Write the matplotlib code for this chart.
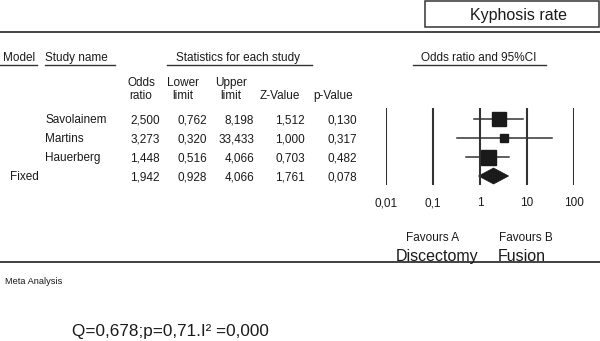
import matplotlib
matplotlib.use("Agg")
import matplotlib.pyplot as plt
from matplotlib.patches import Rectangle, Polygon

plt.rcParams['font.family'] = ['Liberation Sans', 'DejaVu Sans']

# ---- data ----
studies = ["Savolainem", "Martins", "Hauerberg"]
odds_ratio = [2.500, 3.273, 1.448]
lower_limit = [0.762, 0.320, 0.516]
upper_limit = [8.198, 33.433, 4.066]
z_value = [1.512, 1.000, 0.703]
p_value = [0.130, 0.317, 0.482]
pooled_label = "Fixed"
pooled = [1.942, 0.928, 4.066, 1.761, 0.078]  # OR, lower, upper, Z, p
axis_ticks = [0.01, 0.1, 1, 10, 100]
axis_tick_labels = ["0,01", "0,1", "1", "10", "100"]
heterogeneity = "Q=0,678;p=0,71.I\u00b2 =0,000"

# ---- style ----
square_sizes = [9.8, 5.4, 10.8]  # points
TXT = "#1a1a1a"
LN = "#333333"
fs = 8.5

W, H = 600, 341
fig = plt.figure(figsize=(W / 100, H / 100), dpi=100)
bg = fig.add_axes([0, 0, 1, 1])
bg.set_xlim(0, W)
bg.set_ylim(H, 0)
bg.axis("off")

def fmt(v):
    return f"{v:.3f}".replace(".", ",")

def txt(x, y, s, ha="left", size=fs):
    # y is the visual middle of capitals; convert to baseline
    px = size * 100 / 72
    bg.text(x, y + 0.358 * px, s, ha=ha, va="baseline", fontsize=size, color=TXT)

# title box
bg.add_patch(Rectangle((425, 1), 174, 26, fill=False, ec=LN, lw=1.1))
txt(518, 14.5, "Kyphosis rate", ha="center", size=11.5)
# top & bottom rules
bg.plot([0, 600], [31.5, 31.5], color=LN, lw=1.3)
bg.plot([0, 600], [262, 262], color=LN, lw=1.3)

# header
txt(3, 57, "Model")
bg.plot([0, 37], [64.5, 64.5], color=LN, lw=1.0)
txt(45, 57, "Study name")
bg.plot([45, 115], [64.5, 64.5], color=LN, lw=1.0)
txt(238, 57, "Statistics for each study", ha="center")
bg.plot([167, 312], [64.5, 64.5], color=LN, lw=1.0)
txt(479, 57, "Odds ratio and 95%CI", ha="center")
bg.plot([413, 546], [64.5, 64.5], color=LN, lw=1.0)

col_heads = [("Odds", "ratio", 141), ("Lower", "limit", 183), ("Upper", "limit", 231),
             (None, "Z-Value", 280), (None, "p-Value", 333)]
for top, bot, x in col_heads:
    if top:
        txt(x, 81.5, top, ha="center")
    txt(x, 95, bot, ha="center")

col_right = [160, 207, 254, 305, 357]
row_y0, row_h = 119, 19
for i, name in enumerate(studies):
    y = row_y0 + i * row_h
    txt(45, y, name)
    vals = [odds_ratio[i], lower_limit[i], upper_limit[i], z_value[i], p_value[i]]
    for x, v in zip(col_right, vals):
        txt(x, y, fmt(v), ha="right")
yp = row_y0 + len(studies) * row_h
txt(10, yp, pooled_label)
for x, v in zip(col_right, pooled):
    txt(x, yp, fmt(v), ha="right")

# forest plot
x0, x1 = 386, 574
ytop, ybot = 108, 185
ax = fig.add_axes([x0 / W, 1 - ybot / H, (x1 - x0) / W, (ybot - ytop) / H])
ax.set_xscale("log")
ax.set_xlim(axis_ticks[0], axis_ticks[-1])
ax.set_ylim(ybot, ytop)
ax.axis("off")
for t in axis_ticks:
    ax.plot([t, t], [ytop, ybot], color=LN, lw=1.5, solid_capstyle="butt")
for i in range(len(studies)):
    y = row_y0 + i * row_h
    ax.plot([lower_limit[i], upper_limit[i]], [y, y], color=LN, lw=1.1, clip_on=False)
    ax.plot([odds_ratio[i]], [y], marker="s", ms=square_sizes[i], color="#1a1a1a", mec="#1a1a1a")
dh = 8
ax.add_patch(Polygon([(pooled[1], yp), (pooled[0], yp - dh), (pooled[2], yp), (pooled[0], yp + dh)],
                     closed=True, fc="#1a1a1a", ec="#1a1a1a", lw=0.5))
for k, lab in enumerate(axis_tick_labels):
    xpix = x0 + (x1 - x0) * k / (len(axis_ticks) - 1)
    txt(xpix, 202, lab, ha="center")

txt(433, 237, "Favours A", ha="center")
txt(526, 237, "Favours B", ha="center")
txt(437, 255, "Discectomy", ha="center", size=11.5)
txt(522, 255, "Fusion", ha="center", size=11.5)

txt(5, 281, "Meta Analysis", size=6.7)
txt(72, 330, heterogeneity, size=12.3)

fig.savefig("out.png", dpi=100)
